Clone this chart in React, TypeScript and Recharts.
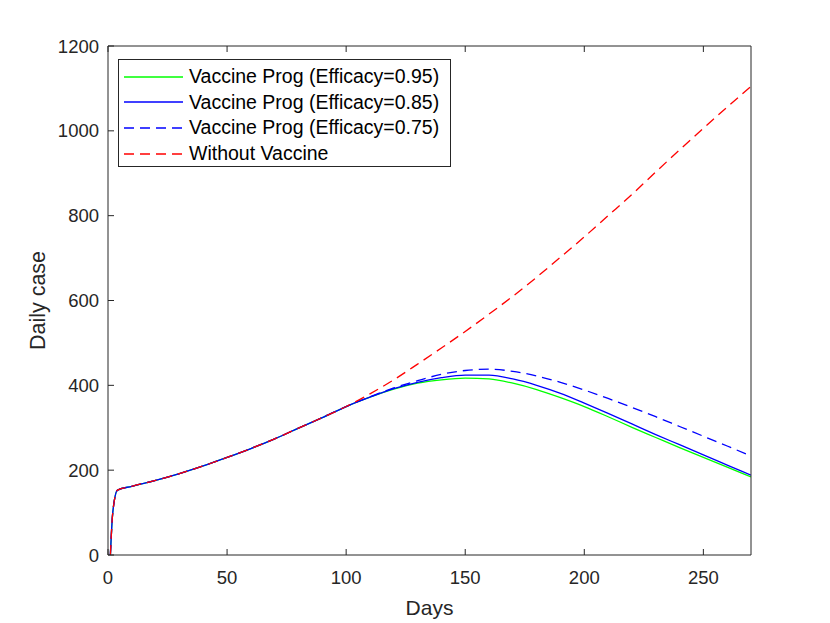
import { LineChart, Line, XAxis, YAxis, Label } from 'recharts';

const days = [1, 2, 4, 10, 20, 30, 40, 50, 60, 70, 80, 90, 100, 110, 120, 130, 140, 150, 160, 170, 180, 190, 200, 210, 220, 230, 240, 250, 260, 270];

const shared = [0, 100, 153, 162, 176, 192, 210, 230, 251, 274, 299, 324, 350];

const eff95 = [...shared, 372, 391, 405, 413, 417, 415, 405, 390, 371, 350, 326, 301, 277, 253, 230, 207, 184];
const eff85 = [...shared, 372, 392, 407, 418, 424, 424, 415, 400, 381, 358, 334, 309, 284, 260, 236, 212, 188];
const eff75 = [...shared, 373, 394, 411, 426, 435, 438, 433, 422, 407, 389, 369, 348, 326, 303, 280, 257, 233];
const noVaccine = [...shared, 380, 413, 450, 488, 527, 568, 610, 655, 702, 750, 800, 850, 903, 955, 1006, 1056, 1105];

const xTicks = [0, 50, 100, 150, 200, 250];
const yTicks = [0, 200, 400, 600, 800, 1000, 1200];

const data = days.map((d, i) => ({
  day: d,
  e95: eff95[i],
  e85: eff85[i],
  e75: eff75[i],
  none: noVaccine[i],
}));

const series = [
  { key: 'e95', name: 'Vaccine Prog (Efficacy=0.95)', color: '#00ff00', dash: undefined },
  { key: 'e85', name: 'Vaccine Prog (Efficacy=0.85)', color: '#0000ff', dash: undefined },
  { key: 'e75', name: 'Vaccine Prog (Efficacy=0.75)', color: '#0000ff', dash: '10 6' },
  { key: 'none', name: 'Without Vaccine', color: '#ff0000', dash: '10 6' },
];

const font = 'Liberation Sans, Arial, Helvetica, sans-serif';
const axisColor = '#262626';

function LegendBox() {
  return (
    <div
      style={{
        position: 'absolute',
        left: 118,
        top: 59,
        border: '1px solid #262626',
        background: '#fff',
        width: 333,
        height: 108,
        boxSizing: 'border-box',
        paddingTop: 4,
        fontFamily: font,
        fontSize: 19.5,
        color: '#000',
      }}
    >
      {series.map((s) => (
        <div key={s.key} style={{ display: 'flex', alignItems: 'center', height: 25.6, whiteSpace: 'nowrap' }}>
          <svg width={70} height={10} style={{ flex: 'none' }}>
            <line x1={5} x2={64} y1={5} y2={5} stroke={s.color} strokeWidth={1.3} strokeDasharray={s.dash} />
          </svg>
          <span>{s.name}</span>
        </div>
      ))}
    </div>
  );
}

export default function App() {
  return (
    <div style={{ position: 'absolute', left: 0, top: 0, width: 830, height: 623, background: '#fff' }}>
      <LineChart width={830} height={623} data={data} margin={{ top: 45, right: 78, bottom: 0, left: 0 }}>
        <XAxis
          dataKey="day"
          type="number"
          domain={[0, 270]}
          ticks={xTicks}
          height={68}
          stroke={axisColor}
          tickSize={-6}
          tickMargin={22}
          tick={{ fill: axisColor, fontSize: 18.5, fontFamily: font }}
          allowDataOverflow
        >
          <Label value="Days" position="insideBottom" offset={8} style={{ fill: axisColor, fontSize: 21, fontFamily: font }} />
        </XAxis>
        <XAxis
          xAxisId="top"
          orientation="top"
          dataKey="day"
          type="number"
          domain={[0, 270]}
          ticks={xTicks}
          height={1}
          stroke={axisColor}
          tickSize={-6}
          tickFormatter={() => ''}
        />
        <YAxis
          type="number"
          domain={[0, 1200]}
          ticks={yTicks}
          width={108}
          stroke={axisColor}
          tickSize={-6}
          tickMargin={15}
          tick={{ fill: axisColor, fontSize: 18.5, fontFamily: font }}
        >
          <Label
            value="Daily case"
            angle={-90}
            position="insideLeft"
            offset={37}
            style={{ fill: axisColor, fontSize: 21.5, fontFamily: font, textAnchor: 'middle' }}
          />
        </YAxis>
        <YAxis
          yAxisId="right"
          orientation="right"
          type="number"
          domain={[0, 1200]}
          ticks={yTicks}
          width={1}
          stroke={axisColor}
          tickSize={-6}
          tickFormatter={() => ''}
        />
        {series.map((s) => (
          <Line
            key={s.key}
            dataKey={s.key}
            name={s.name}
            type="monotone"
            stroke={s.color}
            strokeWidth={1.3}
            strokeDasharray={s.dash}
            dot={false}
            activeDot={false}
            isAnimationActive={false}
          />
        ))}
      </LineChart>
      <LegendBox />
    </div>
  );
}
